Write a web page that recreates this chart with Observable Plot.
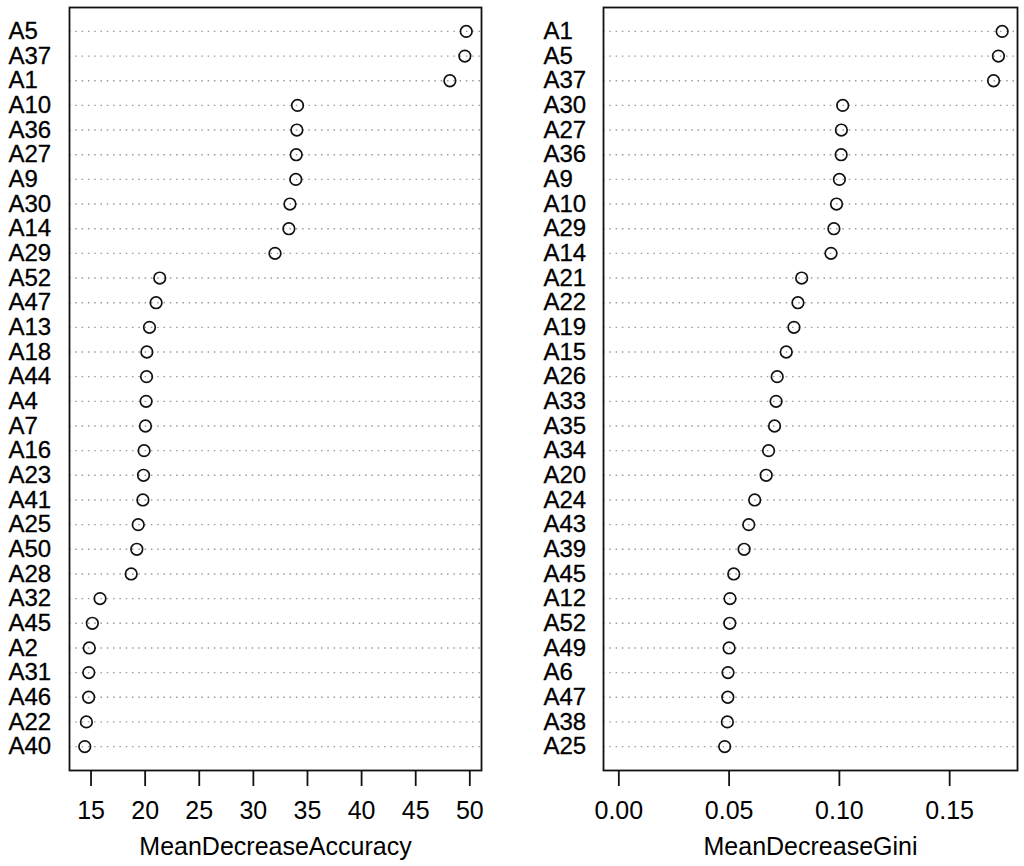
<!DOCTYPE html>
<html>
<head>
<meta charset="utf-8">
<script src="https://cdn.jsdelivr.net/npm/d3@7"></script>
<script src="https://cdn.jsdelivr.net/npm/@observablehq/plot@0.6"></script>
<style>
  html, body { margin: 0; padding: 0; background: #fff; color: #000; }
  #wrap { display: flex; width: 1024px; height: 866px; }
</style>
</head>
<body>
<div id="wrap"></div>
<script>
const accNames = ["A5","A37","A1","A10","A36","A27","A9","A30","A14","A29","A52","A47","A13","A18","A44","A4","A7","A16","A23","A41","A25","A50","A28","A32","A45","A2","A31","A46","A22","A40"];
const accValues = [49.67,49.54,48.16,34.08,34.02,33.96,33.92,33.38,33.28,32.0,21.35,21.01,20.4,20.16,20.13,20.09,20.03,19.9,19.85,19.79,19.36,19.23,18.71,15.83,15.12,14.84,14.79,14.78,14.57,14.42];
const accTicks = [15,20,25,30,35,40,45,50];
const accTitle = "MeanDecreaseAccuracy";

const giniNames = ["A1","A5","A37","A30","A27","A36","A9","A10","A29","A14","A21","A22","A19","A15","A26","A33","A35","A34","A20","A24","A43","A39","A45","A12","A52","A49","A6","A47","A38","A25"];
const giniValues = [0.1738,0.1721,0.1699,0.1015,0.1009,0.1008,0.1000,0.0987,0.0975,0.0962,0.0829,0.0812,0.0794,0.0759,0.0718,0.0713,0.0706,0.0679,0.0668,0.0616,0.0589,0.0568,0.0521,0.0504,0.0503,0.0500,0.0495,0.0494,0.0492,0.0480];
const giniTicks = [0, 0.05, 0.10, 0.15];
const giniTitle = "MeanDecreaseGini";

const FONT = "'Liberation Sans', Arial, Helvetica, sans-serif";
const FS = 25;
const LFS = 24;

function panel({names, values, ticks, title, xmin, fmt, marginLeft, marginRight, labelX}) {
  const data = names.map((n, i) => ({name: n, value: values[i]}));
  const lo = xmin !== undefined ? xmin : d3.min(values);
  const hi = d3.max(values);
  const pad = (hi - lo) * 0.04;
  return Plot.plot({
    width: 512,
    height: 866,
    marginLeft,
    marginRight,
    marginTop: 7,
    marginBottom: 96,
    style: {fontFamily: FONT, fontSize: FS + "px", background: "#fff", color: "#000"},
    x: {domain: [lo - pad, hi + pad]},
    y: {type: "point", domain: names, padding: 0.97, round: false, axis: null},
    marks: [
      Plot.ruleY(data, {y: "name", stroke: "#9a9a9a", strokeWidth: 1.4, strokeDasharray: "1.5,4.8"}),
      Plot.dot(data, {x: "value", y: "name", r: 5.8, stroke: "#111", strokeWidth: 1.7, fill: "none"}),
      Plot.text(data, {y: "name", text: "name", frameAnchor: "left", dx: -(marginLeft - labelX), textAnchor: "start", fontSize: LFS, fill: "#000", stroke: "#000", strokeWidth: 0.3}),
      Plot.frame({stroke: "#111", strokeWidth: 1.8}),
      Plot.axisX({ticks, tickSize: 16, tickPadding: 15, fontSize: FS, strokeWidth: 1.8, label: null, tickFormat: fmt, stroke: "#111"}),
      Plot.text([title], {text: d => d, frameAnchor: "bottom", dy: 84, fontSize: FS, fill: "#000"})
    ]
  });
}

const wrap = document.getElementById("wrap");
wrap.appendChild(panel({names: accNames, values: accValues, ticks: accTicks, title: accTitle, fmt: d3.format("d"), marginLeft: 69, marginRight: 31, labelX: 8}));
wrap.appendChild(panel({names: giniNames, values: giniValues, ticks: giniTicks, title: giniTitle, xmin: 0, fmt: d3.format(".2f"), marginLeft: 91, marginRight: 7, labelX: 31}));
</script>
</body>
</html>
